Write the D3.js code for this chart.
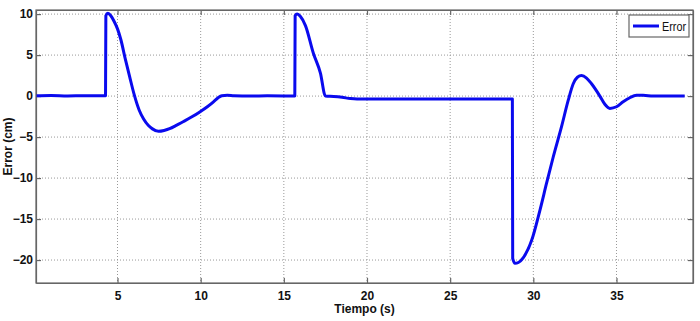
<!DOCTYPE html>
<html>
<head>
<meta charset="utf-8">
<script src="https://cdn.jsdelivr.net/npm/d3@7"></script>
<style>
  body { margin: 0; background: #fff; }
  svg { display: block; font-family: "Liberation Sans", Arial, sans-serif; }
</style>
</head>
<body>
<svg width="700" height="321"></svg>
<script>
"use strict";

// time (s)
const tiempo = [0.1, 1, 2, 3, 4, 4.28, 4.3, 4.42, 4.6, 4.8, 5.0, 5.2, 5.46, 5.75, 6.0, 6.3, 6.57, 6.86, 7.1, 7.46, 7.8,
  8.17, 8.5, 8.97, 9.5, 9.97, 10.4, 10.77, 11.05, 11.27, 11.6, 12, 13, 14, 15, 15.66, 15.68, 15.8, 16.0, 16.3, 16.78,
  17.2, 17.5, 18, 18.5, 19, 19.4, 20, 22, 24, 26, 28, 28.74, 28.76, 28.9, 29.1, 29.4, 29.9, 30.4, 30.8, 31.2,
  31.7, 32.1, 32.4, 32.65, 32.9, 33.2, 33.5, 34.0, 34.3, 34.6, 35.0, 35.4, 35.8, 36.2, 36.6, 37.2, 38, 39.1];
// error (cm)
const errorCm = [0.05, 0.08, 0.02, 0.05, 0.03, 0.05, 9.8, 10.1, 9.8, 9.1, 8.2, 6.9, 4.6, 2.2, 0.2, -1.7, -2.8, -3.6, -4.0, -4.3, -4.2,
  -3.95, -3.6, -3.1, -2.5, -1.9, -1.3, -0.7, -0.2, 0.05, 0.1, 0.05, 0.02, 0.03, 0.02, 0.02, 9.8, 10.0, 9.7, 8.6, 5.2,
  2.8, 0, -0.05, -0.15, -0.3, -0.35, -0.35, -0.35, -0.35, -0.35, -0.35, -0.35, -19.8, -20.4, -20.3, -19.7, -17.6, -13.9, -10.6, -7.4,
  -3.7, -0.5, 1.5, 2.3, 2.5, 2.2, 1.5, 0, -1.0, -1.5, -1.3, -0.7, -0.2, 0.1, 0.1, 0, 0.02, 0];

const xTicks = [5, 10, 15, 20, 25, 30, 35];
const yTicks = [-20, -15, -10, -5, 0, 5, 10];

const svg = d3.select("svg");
const margin = { top: 10, left: 36, right: 7, bottom: 38 };
const width = +svg.attr("width");
const height = +svg.attr("height");
const innerWidth = width - margin.left - margin.right;
const innerHeight = height - margin.top - margin.bottom;

const scaleX = d3.scaleLinear().domain([0.1, 39.6]).range([0, innerWidth]);
const scaleY = d3.scaleLinear().domain([-22.8, 10.5]).range([innerHeight, 0]);

const g = svg.append("g").attr("transform", `translate(${margin.left},${margin.top})`);

// grid
g.selectAll(".gx").data(xTicks).enter().append("line")
  .attr("x1", d => scaleX(d)).attr("x2", d => scaleX(d))
  .attr("y1", 0).attr("y2", innerHeight)
  .attr("stroke", "#999").attr("stroke-dasharray", "1,2");
g.selectAll(".gy").data(yTicks).enter().append("line")
  .attr("y1", d => scaleY(d)).attr("y2", d => scaleY(d))
  .attr("x1", 0).attr("x2", innerWidth)
  .attr("stroke", "#999").attr("stroke-dasharray", "1,2");

// axes (ticks pointing inward)
const axisColor = "#666";
const xAxis = g.append("g").attr("transform", `translate(0,${innerHeight})`)
  .call(d3.axisBottom(scaleX).tickValues(xTicks).tickSizeInner(-5).tickSizeOuter(0).tickPadding(8));
const xAxisTop = g.append("g")
  .call(d3.axisTop(scaleX).tickValues(xTicks).tickSizeInner(-5).tickSizeOuter(0).tickFormat(""));
const yAxis = g.append("g")
  .call(d3.axisLeft(scaleY).tickValues(yTicks).tickSizeInner(-5).tickSizeOuter(0).tickPadding(3));
const yAxisRight = g.append("g").attr("transform", `translate(${innerWidth},0)`)
  .call(d3.axisRight(scaleY).tickValues(yTicks).tickSizeInner(-5).tickSizeOuter(0).tickFormat(""));

[xAxis, xAxisTop, yAxis, yAxisRight].forEach(a => {
  a.selectAll(".domain, .tick line").attr("stroke", axisColor).attr("stroke-width", 1.2);
  a.selectAll("text").attr("fill", "#111").style("font-size", "12px").style("font-weight", "bold");
});

// line
const line = d3.line().x((d, i) => scaleX(tiempo[i])).y(d => scaleY(d)).curve(d3.curveMonotoneX);
g.append("path")
  .datum(errorCm)
  .attr("d", line)
  .attr("fill", "none")
  .attr("stroke", "#0a0aee")
  .attr("stroke-width", 3)
  .attr("stroke-linejoin", "round");

// frame on top
g.append("rect").attr("width", innerWidth).attr("height", innerHeight)
  .attr("fill", "none").attr("stroke", axisColor).attr("stroke-width", 1.2);

// legend
const leg = svg.append("g").attr("transform", "translate(629,15)");
leg.append("rect").attr("width", 60).attr("height", 22)
  .attr("fill", "#fff").attr("stroke", axisColor).attr("stroke-width", 1.2);
leg.append("line").attr("x1", 4).attr("x2", 30).attr("y1", 11).attr("y2", 11)
  .attr("stroke", "#0a0aee").attr("stroke-width", 3);
leg.append("text").attr("x", 33).attr("y", 15.5).text("Error")
  .attr("textLength", 24).attr("lengthAdjust", "spacingAndGlyphs")
  .style("font-size", "12px").attr("fill", "#111");

// axis labels
svg.append("text")
  .attr("x", margin.left + innerWidth / 2).attr("y", 313)
  .attr("text-anchor", "middle")
  .style("font-size", "12px").style("font-weight", "bold").attr("fill", "#111")
  .text("Tiempo (s)");
svg.append("text")
  .attr("transform", `translate(12,${margin.top + innerHeight / 2}) rotate(-90)`)
  .attr("text-anchor", "middle")
  .style("font-size", "12px").style("font-weight", "bold").attr("fill", "#111")
  .text("Error (cm)");
</script>
</body>
</html>
